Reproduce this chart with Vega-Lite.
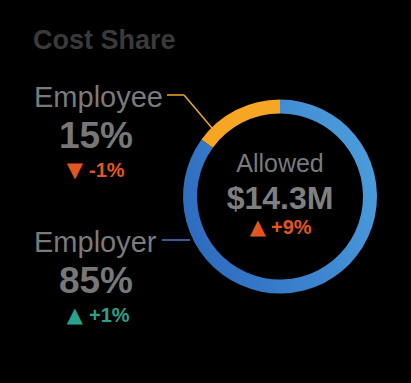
{
  "$schema": "https://vega.github.io/schema/vega-lite/v6.json",
  "width": 262,
  "height": 273,
  "autosize": {"type": "none"},
  "padding": {"left": 149, "top": 60, "right": 0, "bottom": 50},
  "background": "#000000",
  "title": {
    "text": "Cost Share",
    "anchor": "start",
    "frame": "group",
    "orient": "top",
    "baseline": "alphabetic",
    "offset": 12,
    "dx": -116,
    "dy": 28,
    "font": "Liberation Sans",
    "fontSize": 27,
    "fontWeight": "bold",
    "color": "#3a3a3a"
  },
  "config": {"view": {"stroke": null}},
  "datasets": {
    "segments": [
      {"segment": "Employer", "share": 0.85, "change": 1, "arrow": "▲", "changeText": "+1%"},
      {"segment": "Employee", "share": 0.15, "change": -1, "arrow": "▼", "changeText": "-1%"}
    ],
    "total": [
      {"label": "Allowed", "allowed": 14300000, "arrow": "▲", "changeText": "+9%"}
    ]
  },
  "layer": [
    {
      "data": {"name": "segments"},
      "mark": {"type": "arc", "innerRadius": 83, "outerRadius": 97},
      "encoding": {
        "theta": {"field": "share", "type": "quantitative", "stack": true},
        "order": {"field": "share", "sort": "descending"},
        "detail": {"field": "segment"},
        "color": {
          "condition": {"test": "datum.segment == 'Employee'", "value": "#f6a623"},
          "value": {
            "gradient": "linear",
            "x1": 1, "y1": 0.3, "x2": 0, "y2": 0.7,
            "stops": [
              {"offset": 0, "color": "#4c9edd"},
              {"offset": 1, "color": "#2d6abf"}
            ]
          }
        }
      }
    },
    {
      "data": {"name": "segments"},
      "transform": [{"filter": "datum.segment == 'Employee'"}],
      "mark": {"type": "rule", "strokeWidth": 1.5, "color": "#f0a52a"},
      "encoding": {
        "y": {"field": "segment", "type": "nominal", "axis": null, "scale": {"type": "point", "domain": ["Employee", "Employer"], "range": [35, 180], "padding": 0, "paddingOuter": 0}},
        "x": {"value": 18},
        "x2": {"value": 35}
      }
    },
    {
      "data": {"name": "segments"},
      "transform": [{"filter": "datum.segment == 'Employee'"}],
      "mark": {"type": "rule", "strokeWidth": 1.5, "color": "#f0a52a"},
      "encoding": {
        "y": {"field": "segment", "type": "nominal", "axis": null, "scale": {"type": "point", "domain": ["Employee", "Employer"], "range": [35, 180], "padding": 0, "paddingOuter": 0}},
        "y2": {"value": 68},
        "x": {"value": 35},
        "x2": {"value": 63}
      }
    },
    {
      "data": {"name": "segments"},
      "transform": [{"filter": "datum.segment == 'Employer'"}],
      "mark": {"type": "rule", "strokeWidth": 1.5, "color": "#3f80c8"},
      "encoding": {
        "y": {"field": "segment", "type": "nominal", "axis": null, "scale": {"type": "point", "domain": ["Employee", "Employer"], "range": [35, 180], "padding": 0, "paddingOuter": 0}},
        "x": {"value": 13},
        "x2": {"value": 41}
      }
    },
    {
      "data": {"name": "segments"},
      "mark": {"type": "text", "align": "left", "baseline": "alphabetic", "dx": -246, "dy": 12, "font": "Liberation Sans", "fontSize": 29, "color": "#7a7a7a"},
      "encoding": {
        "y": {"field": "segment", "type": "nominal", "axis": null, "scale": {"type": "point", "domain": ["Employee", "Employer"], "range": [35, 180], "padding": 0, "paddingOuter": 0}},
        "text": {"field": "segment"}
      }
    },
    {
      "data": {"name": "segments"},
      "mark": {"type": "text", "align": "center", "baseline": "alphabetic", "dx": -184, "dy": 53, "font": "Liberation Sans", "fontSize": 37, "fontWeight": "bold", "color": "#777777"},
      "encoding": {
        "y": {"field": "segment", "type": "nominal", "axis": null, "scale": {"type": "point", "domain": ["Employee", "Employer"], "range": [35, 180], "padding": 0, "paddingOuter": 0}},
        "text": {"field": "share", "format": ".0%"}
      }
    },
    {
      "data": {"name": "segments"},
      "mark": {"type": "text", "align": "right", "baseline": "alphabetic", "dx": -197, "dy": 82, "font": "DejaVu Sans", "fontSize": 21},
      "encoding": {
        "y": {"field": "segment", "type": "nominal", "axis": null, "scale": {"type": "point", "domain": ["Employee", "Employer"], "range": [35, 180], "padding": 0, "paddingOuter": 0}},
        "text": {"field": "arrow"},
        "color": {"condition": {"test": "datum.change < 0", "value": "#e3561f"}, "value": "#2aa18a"}
      }
    },
    {
      "data": {"name": "segments"},
      "mark": {"type": "text", "align": "left", "baseline": "alphabetic", "dx": -191, "dy": 82, "font": "Liberation Sans", "fontSize": 20, "fontWeight": "bold"},
      "encoding": {
        "y": {"field": "segment", "type": "nominal", "axis": null, "scale": {"type": "point", "domain": ["Employee", "Employer"], "range": [35, 180], "padding": 0, "paddingOuter": 0}},
        "text": {"field": "changeText"},
        "color": {"condition": {"test": "datum.change < 0", "value": "#e3561f"}, "value": "#2aa18a"}
      }
    },
    {
      "data": {"name": "total"},
      "mark": {"type": "text", "align": "center", "baseline": "alphabetic", "dy": -24.5, "font": "Liberation Sans", "fontSize": 25, "color": "#7a7a7a"},
      "encoding": {"text": {"field": "label"}}
    },
    {
      "data": {"name": "total"},
      "mark": {"type": "text", "align": "center", "baseline": "alphabetic", "dy": 12.5, "font": "Liberation Sans", "fontSize": 32, "fontWeight": "bold", "color": "#7f7f7f"},
      "encoding": {"text": {"field": "allowed", "format": "$.3s"}}
    },
    {
      "data": {"name": "total"},
      "mark": {"type": "text", "align": "right", "baseline": "alphabetic", "dx": -14, "dy": 37.5, "font": "DejaVu Sans", "fontSize": 21, "color": "#e3561f"},
      "encoding": {"text": {"field": "arrow"}}
    },
    {
      "data": {"name": "total"},
      "mark": {"type": "text", "align": "left", "baseline": "alphabetic", "dx": -9, "dy": 37.5, "font": "Liberation Sans", "fontSize": 20, "fontWeight": "bold", "color": "#e3561f"},
      "encoding": {"text": {"field": "changeText"}}
    }
  ]
}
